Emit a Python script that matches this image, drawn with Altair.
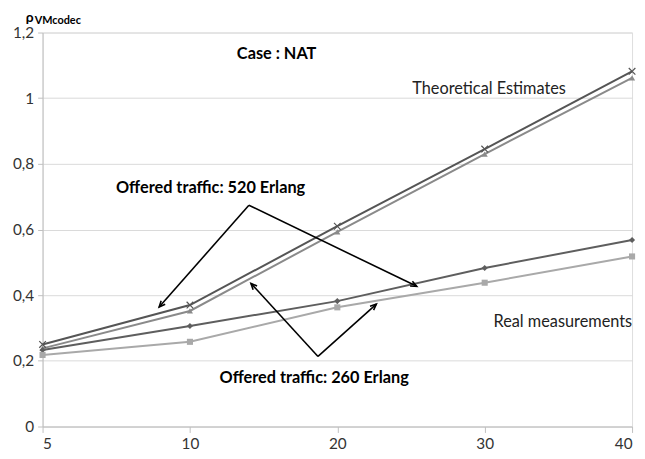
import math
import altair as alt
import pandas as pd

# ---- data ----
x_labels = ["5", "10", "20", "30", "40"]
theo_520 = [0.250, 0.370, 0.610, 0.845, 1.082]
theo_260 = [0.238, 0.352, 0.593, 0.830, 1.062]
real_520 = [0.233, 0.306, 0.382, 0.483, 0.568]
real_260 = [0.218, 0.258, 0.363, 0.438, 0.518]

series_names = ["theo_520", "theo_260", "real_520", "real_260"]
series_vals = [theo_520, theo_260, real_520, real_260]
series_colors = ["#555555", "#8a8a8a", "#5e5e5e", "#a9a9a9"]

# annotations (data coordinates: x = category index, y = value)
note_text = ["Case : NAT", "Theoretical Estimates", "Offered traffic: 520 Erlang",
             "Real measurements", "Offered traffic: 260 Erlang"]
note_x = [1.588, 3.03, 1.14, 3.53, 1.843]
note_y = [1.134, 1.029, 0.725, 0.319, 0.147]
note_bold = [True, False, True, False, True]

arrow_x1 = [1.400, 1.400, 1.869, 1.869]
arrow_y1 = [0.674, 0.674, 0.2135, 0.2135]
arrow_x2 = [0.791, 2.539, 1.414, 2.265]
arrow_y2 = [0.364, 0.427, 0.436, 0.373]

W, H = 597, 399
FONT = "Lato"

rows = []
for name, vals in zip(series_names, series_vals):
    for i, (lab, v) in enumerate(zip(x_labels, vals)):
        rows.append({"series": name, "xi": i, "xlab": lab, "y": v})
df = pd.DataFrame(rows)

px_x = W / (len(x_labels) - 1)
px_y = H / 1.2
arr = []
for a, b, c, d in zip(arrow_x1, arrow_y1, arrow_x2, arrow_y2):
    dx = (c - a) * px_x
    dy = -(d - b) * px_y
    ang = math.degrees(math.atan2(dx, -dy)) % 360
    arr.append({"x1": a, "y1": b, "x2": c, "y2": d, "ang": ang})
adf = pd.DataFrame(arr)

ndf = pd.DataFrame({"t": note_text, "x": note_x, "y": note_y, "b": note_bold})

xscale = alt.Scale(domain=[0, len(x_labels) - 1], nice=False, zero=False)
yscale = alt.Scale(domain=[0, 1.2], nice=False)
label_arr = "[" + ",".join("'%s'" % s for s in x_labels) + "]"

X = alt.X("xi:Q", scale=xscale, title=None,
          axis=alt.Axis(values=list(range(len(x_labels))),
                        labelExpr=label_arr + "[datum.value]",
                        grid=False, domainColor="#bfbfbf", tickColor="#bfbfbf",
                        tickSize=6, labelFont=FONT, labelFontSize=15.5,
                        labelColor="#333333", labelPadding=4))
Y = alt.Y("y:Q", scale=yscale, title=None,
          axis=alt.Axis(values=[0, 0.2, 0.4, 0.6, 0.8, 1.0, 1.2],
                        labelExpr="replace(format(datum.value, '~g'), '.', ',')",
                        grid=True, gridColor="#d9d9d9", domainColor="#bfbfbf",
                        tickColor="#bfbfbf", tickSize=5, labelFont=FONT,
                        labelFontSize=15.5, labelColor="#333333", labelPadding=4))

color = alt.Color("series:N", scale=alt.Scale(domain=series_names, range=series_colors),
                  legend=None)

base = alt.Chart(df)
lines = base.mark_line(strokeWidth=2).encode(x=X, y=Y, color=color, detail="series:N")

pts_filled = base.transform_filter("datum.series != 'theo_520'").mark_point(
    filled=True, opacity=1, size=38).encode(
    x="xi:Q", y="y:Q", color=color,
    shape=alt.Shape("series:N", scale=alt.Scale(
        domain=["theo_260", "real_520", "real_260"],
        range=["triangle-up", "diamond", "square"]), legend=None))

pts_x = base.transform_filter("datum.series == 'theo_520'").mark_point(
    filled=False, opacity=1, size=45, strokeWidth=1.2,
    shape="M-1,-1L1,1M-1,1L1,-1").encode(x="xi:Q", y="y:Q", color=color)

arrow_lines = alt.Chart(adf).mark_rule(color="black", strokeWidth=1.6).encode(
    x="x1:Q", y="y1:Q", x2="x2:Q", y2="y2:Q")
arrow_heads = alt.Chart(adf).mark_point(
    shape="M-0.7,1.6L0,0L0.7,1.6", filled=False, color="black", opacity=1,
    size=60, strokeWidth=1.6).encode(x="x2:Q", y="y2:Q", angle=alt.Angle("ang:Q", scale=None))

notes_b = alt.Chart(ndf).transform_filter("datum.b").mark_text(
    font=FONT, fontSize=16.5, fontWeight="bold", color="black").encode(
    x="x:Q", y="y:Q", text="t:N")
notes_n = alt.Chart(ndf).transform_filter("!datum.b").mark_text(
    font=FONT, fontSize=16.5, color="#222222").encode(x="x:Q", y="y:Q", text="t:N")

rho = alt.Chart(pd.DataFrame({"t": ["ρ"]})).mark_text(
    font=FONT, fontSize=14, fontWeight="bold", color="black", align="left",
    baseline="alphabetic").encode(x=alt.value(-17), y=alt.value(-11), text="t:N")
sub = alt.Chart(pd.DataFrame({"t": ["VMcodec"]})).mark_text(
    font=FONT, fontSize=11, fontWeight="bold", color="black", align="left",
    baseline="alphabetic").encode(x=alt.value(-8), y=alt.value(-9), text="t:N")

chart = alt.layer(lines, pts_filled, pts_x, arrow_lines, arrow_heads,
                  notes_b, notes_n, rho, sub).properties(
    width=W, height=H,
    autosize=alt.AutoSizeParams(type="none"),
    padding={"left": 35, "top": 22, "right": 5, "bottom": 26},
).configure_view(stroke=None).configure(background="white")

chart.save("out.html", embed_options={"renderer": "svg", "actions": False})
